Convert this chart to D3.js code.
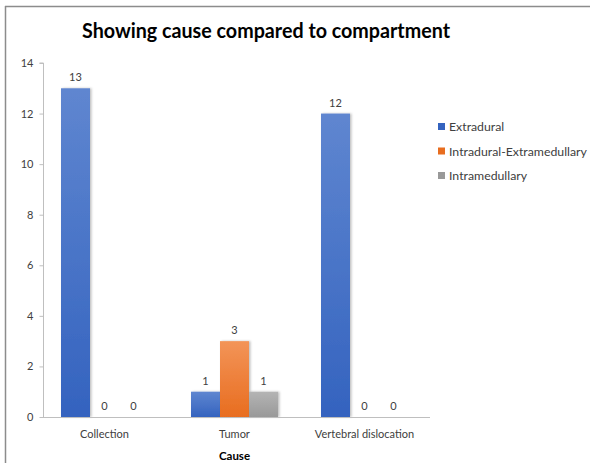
<!DOCTYPE html>
<html>
<head>
<meta charset="utf-8">
<script src="https://cdn.jsdelivr.net/npm/d3@7"></script>
<style>
  html, body { margin: 0; padding: 0; background: #fff; }
  svg { display: block; font-family: Lato, "Open Sans", sans-serif; }
</style>
</head>
<body>
<svg id="chart" width="590" height="463"></svg>
<script>
// Causes along the x axis
const categories = ["Collection", "Tumor", "Vertebral dislocation"];
// Compartment series
const seriesNames = ["Extradural", "Intradural-Extramedullary", "Intramedullary"];
const extradural = [13, 1, 12];
const intraduralExtramedullary = [0, 3, 0];
const intramedullary = [0, 1, 0];
const yTicks = [0, 2, 4, 6, 8, 10, 12, 14];

const seriesValues = [extradural, intraduralExtramedullary, intramedullary];
const colors = {
  "Extradural": ["#5f86d0", "#3463bf"],
  "Intradural-Extramedullary": ["#f39458", "#e86d1f"],
  "Intramedullary": ["#b4b4b4", "#999999"]
};

const svg = d3.select("#chart");
const defs = svg.append("defs");
seriesNames.forEach((s, i) => {
  const g = defs.append("linearGradient")
    .attr("id", "grad" + i).attr("x1", 0).attr("y1", 0).attr("x2", 0).attr("y2", 1);
  g.append("stop").attr("offset", "0%").attr("stop-color", colors[s][0]);
  g.append("stop").attr("offset", "100%").attr("stop-color", colors[s][1]);
});
const shadow = defs.append("filter").attr("id", "shadow")
  .attr("x", "-20%").attr("y", "-20%").attr("width", "150%").attr("height", "140%");
shadow.append("feDropShadow").attr("dx", 1.5).attr("dy", 0).attr("stdDeviation", 1.2)
  .attr("flood-color", "#000").attr("flood-opacity", 0.25);

// Frame (top and left edges)
svg.append("line").attr("x1", 5).attr("x2", 590).attr("y1", 6.5).attr("y2", 6.5)
  .attr("stroke", "#8c8c8c").attr("stroke-width", 1.5);
svg.append("line").attr("x1", 5.5).attr("x2", 5.5).attr("y1", 6).attr("y2", 463)
  .attr("stroke", "#8c8c8c").attr("stroke-width", 1.5);

// Title
svg.append("text")
  .attr("x", 266).attr("y", 38)
  .attr("text-anchor", "middle")
  .attr("font-size", 21).attr("font-weight", "bold").attr("fill", "#000")
  .attr("textLength", 368).attr("lengthAdjust", "spacingAndGlyphs")
  .text("Showing cause compared to compartment");

const x0 = d3.scaleBand().domain(categories).range([39.5, 429.5]).paddingInner(0).paddingOuter(0);
const barW = 29;
const x1 = d3.scaleBand().domain(seriesNames).range([0, barW * 3]);
const y = d3.scaleLinear().domain([0, 14]).range([417, 63]);

// Y axis
const yAxis = svg.append("g").attr("transform", "translate(43.5,0)")
  .call(d3.axisLeft(y).tickValues(yTicks).tickSize(4).tickPadding(6));
yAxis.select(".domain").attr("stroke", "#bfbfbf").attr("d", `M-4,${y(14)}H0V${y(0)}`);
yAxis.selectAll(".tick line").attr("stroke", "#bfbfbf");
yAxis.selectAll(".tick text").attr("font-size", 11).attr("fill", "#404040")
  .attr("font-family", "Lato, sans-serif");

// Bars
const groups = svg.append("g").selectAll("g")
  .data(categories).join("g")
  .attr("transform", d => `translate(${x0(d) + (x0.bandwidth() - barW * 3) / 2},0)`);

groups.selectAll("rect")
  .data((c, ci) => seriesNames.map((s, si) => ({ s, si, v: seriesValues[si][ci] })))
  .join("rect")
  .attr("x", d => x1(d.s))
  .attr("y", d => y(d.v))
  .attr("width", x1.bandwidth())
  .attr("height", d => y(0) - y(d.v))
  .attr("fill", d => `url(#grad${d.si})`)
  .attr("filter", d => d.v > 0 ? "url(#shadow)" : null);

groups.selectAll("text")
  .data((c, ci) => seriesNames.map((s, si) => ({ s, v: seriesValues[si][ci] })))
  .join("text")
  .attr("x", d => x1(d.s) + x1.bandwidth() / 2)
  .attr("y", d => y(d.v) - 7)
  .attr("text-anchor", "middle")
  .attr("font-size", 11).attr("fill", "#404040")
  .text(d => d.v);

// X axis
svg.append("line").attr("x1", 40).attr("x2", 430).attr("y1", 417.5).attr("y2", 417.5)
  .attr("stroke", "#bfbfbf");
svg.append("g").selectAll("text").data(categories).join("text")
  .attr("x", d => x0(d) + x0.bandwidth() / 2)
  .attr("y", 438)
  .attr("text-anchor", "middle")
  .attr("font-size", 11).attr("fill", "#404040")
  .text(d => d);

svg.append("text").attr("x", 234.5).attr("y", 460)
  .attr("text-anchor", "middle").attr("font-size", 11.5).attr("font-weight", "bold")
  .attr("fill", "#000").text("Cause");

// Legend
const legend = svg.append("g").selectAll("g").data(seriesNames).join("g")
  .attr("transform", (d, i) => `translate(438,${127 + i * 24.5})`);
legend.append("rect").attr("x", 0).attr("y", -4).attr("width", 7).attr("height", 7)
  .attr("fill", (d, i) => colors[d][1]);
legend.append("text").attr("x", 11).attr("y", 4)
  .attr("font-size", 12.3).attr("fill", "#404040").text(d => d);
</script>
</body>
</html>
